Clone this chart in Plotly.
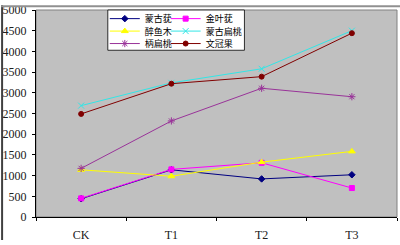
import plotly.graph_objects as go

categories = ["CK", "T1", "T2", "T3"]
series_names = ["蒙古莸", "金叶莸", "醉鱼木", "蒙古扁桃", "柄扁桃", "文冠果"]
s_menggu_you = [440, 1140, 920, 1020]
s_jinye_you = [450, 1150, 1310, 700]
s_zuiyu_mu = [1140, 985, 1325, 1585]
s_menggu_biantao = [2690, 3240, 3580, 4500]
s_bing_biantao = [1175, 2320, 3110, 2905]
s_wenguan_guo = [2490, 3220, 3390, 4440]
y_ticks = [0, 500, 1000, 1500, 2000, 2500, 3000, 3500, 4000, 4500, 5000]

values = [s_menggu_you, s_jinye_you, s_zuiyu_mu, s_menggu_biantao, s_bing_biantao, s_wenguan_guo]
colors = ["#000080", "#FF00FF", "#FFFF00", "#33E6E6", "#993399", "#800000"]
symbols = ["diamond", "square", "triangle-up", "x-thin-open", "asterisk-open", "circle"]
msizes = [5, 5, 6, 6, 6, 5]

W, H = 362.0, 216.0
def px_x(px):
    return (px - 35) / W
def px_y(py):
    return (221 - py) / H

leg_cols = [px_x(104), px_x(165)]
leg_rows = [px_y(14), px_y(27), px_y(40)]

fig = go.Figure()
layout_legends = {}
for i, (name, vals) in enumerate(zip(series_names, values)):
    lname = "legend" if i == 0 else f"legend{i+1}"
    fig.add_trace(go.Scatter(
        x=categories, y=vals, name=name, mode="lines+markers",
        line=dict(color=colors[i], width=1),
        marker=dict(color=colors[i], symbol=symbols[i], size=msizes[i],
                    line=dict(color=colors[i], width=1)),
        legend=lname,
    ))
    layout_legends[lname] = dict(
        x=leg_cols[i % 2], y=leg_rows[i // 2], xanchor="left", yanchor="middle",
        bgcolor="rgba(0,0,0,0)", borderwidth=0, itemwidth=30,
        font=dict(family="Noto Sans CJK SC", size=9, color="#000000"),
    )

fig.update_layout(
    width=400, height=245,
    margin=dict(l=35, r=3, t=5, b=24),
    paper_bgcolor="#FFFFFF",
    plot_bgcolor="#C0C0C0",
    showlegend=True,
    **layout_legends,
    xaxis=dict(
        type="category", categoryorder="array", categoryarray=categories,
        range=[-0.5, 3.5], tickson="boundaries", ticks="outside", ticklen=3,
        tickcolor="#000000", showline=True, linecolor="#000000", linewidth=1,
        showgrid=False, zeroline=False, ticklabelstandoff=7,
        tickfont=dict(family="Liberation Serif", size=12, color="#202020"),
    ),
    yaxis=dict(
        range=[0, 5000], tickvals=y_ticks, ticks="outside", ticklen=3,
        tickcolor="#000000", showline=True, linecolor="#000000", linewidth=1,
        showgrid=False, zeroline=False, ticklabelstandoff=3,
        tickfont=dict(family="Liberation Serif", size=12, color="#202020"),
    ),
    shapes=[
        dict(type="rect", xref="paper", yref="paper", x0=0, x1=1, y0=0, y1=1,
             line=dict(color="#808080", width=1), fillcolor="rgba(0,0,0,0)", layer="below"),
        dict(type="rect", xref="paper", yref="paper",
             x0=px_x(107), x1=px_x(244), y0=px_y(47), y1=px_y(5),
             line=dict(color="#000000", width=0.8), fillcolor="#FFFFFF", layer="below"),
        dict(type="line", xref="paper", yref="paper",
             x0=px_x(1), x1=px_x(1), y0=px_y(0), y1=px_y(245),
             line=dict(color="#404040", width=2)),
        dict(type="line", xref="paper", yref="paper",
             x0=px_x(0), x1=px_x(400), y0=px_y(1), y1=px_y(1),
             line=dict(color="#909090", width=2)),
    ],
)

fig.write_html("out.html")
